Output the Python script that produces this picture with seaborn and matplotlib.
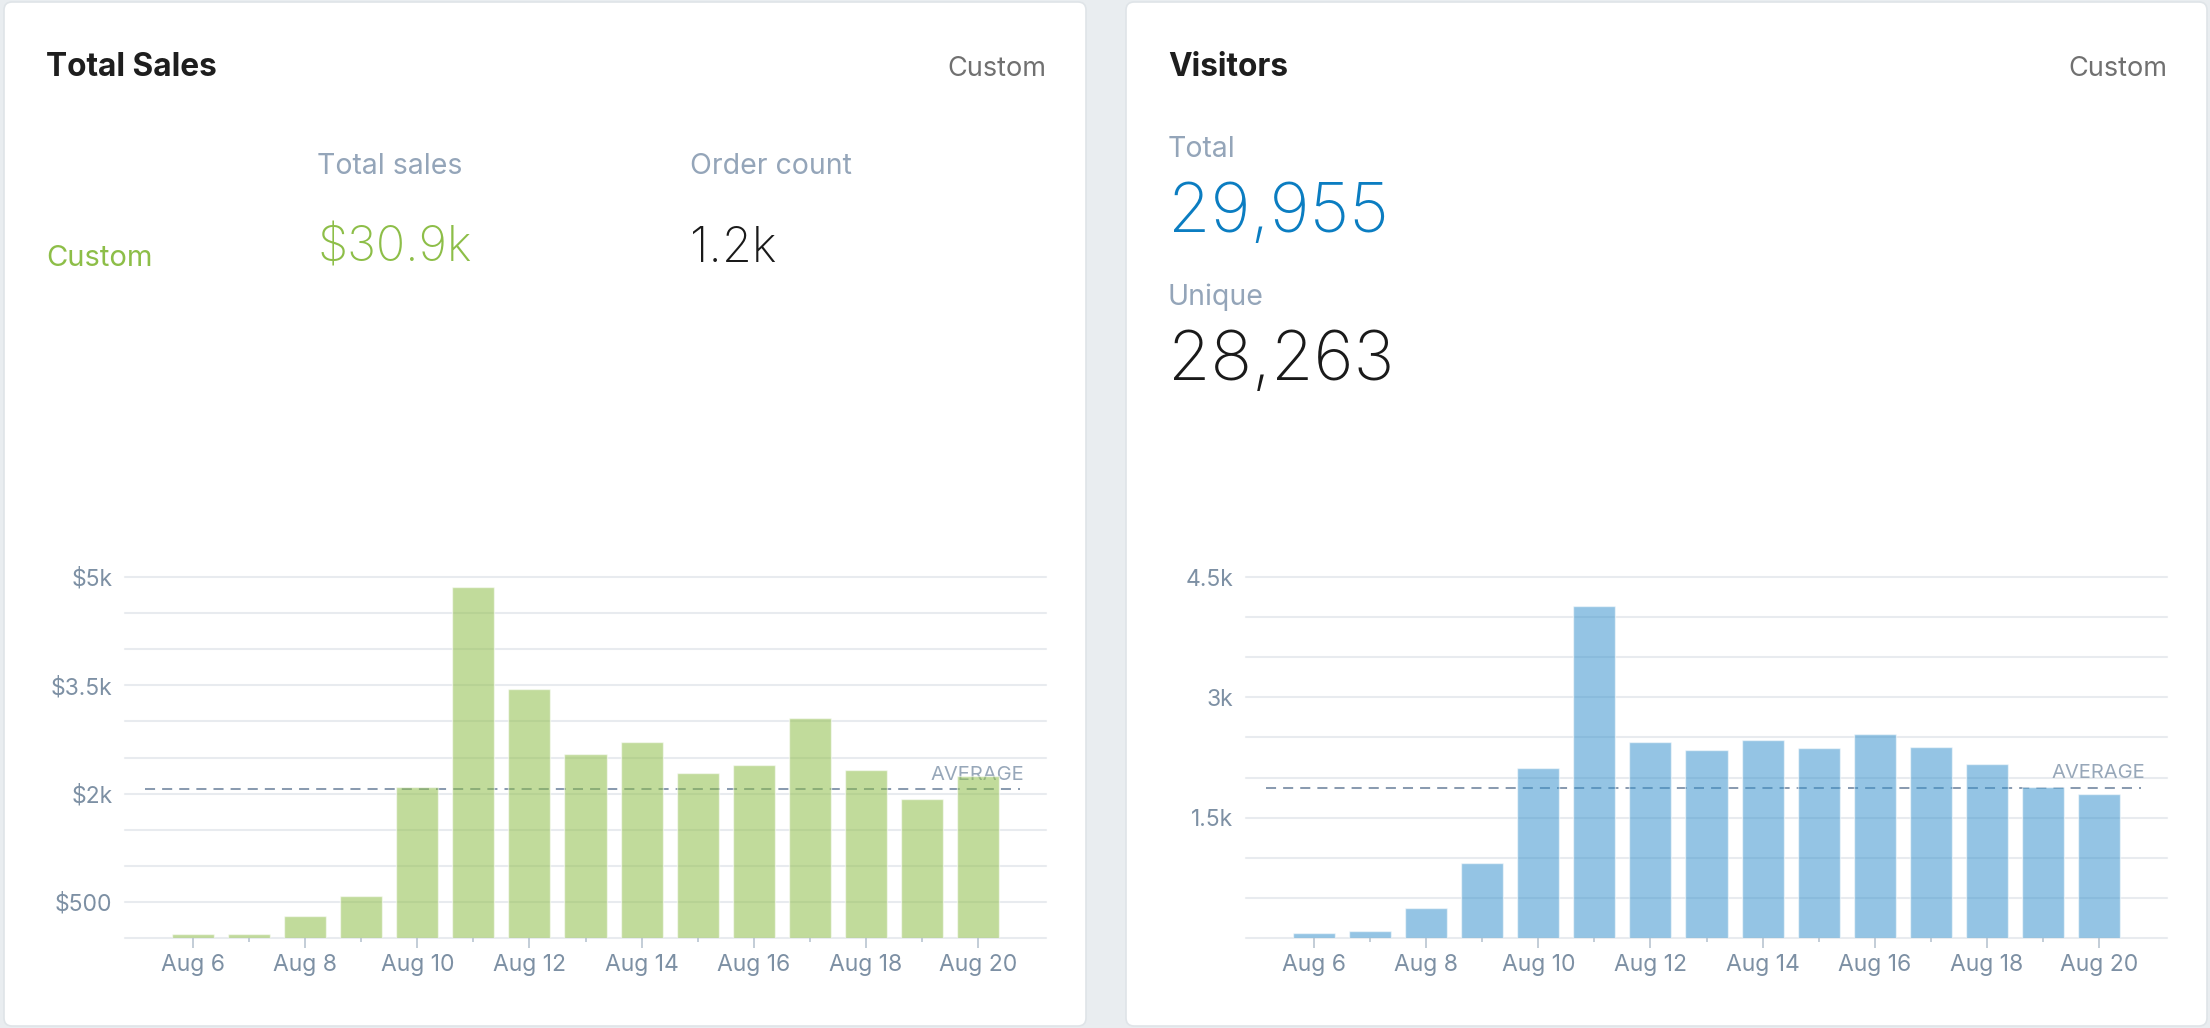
import numpy as np
import pandas as pd
import matplotlib
matplotlib.use("Agg")
import matplotlib.pyplot as plt
import seaborn as sns
from matplotlib.patches import FancyBboxPatch
from matplotlib.transforms import IdentityTransform

# data
days = ["Aug 6", "Aug 7", "Aug 8", "Aug 9", "Aug 10", "Aug 11", "Aug 12", "Aug 13",
        "Aug 14", "Aug 15", "Aug 16", "Aug 17", "Aug 18", "Aug 19", "Aug 20"]
sales = [50, 50, 310, 575, 2095, 4865, 3445, 2545, 2715, 2280, 2390, 3050, 2325, 1920, 2240]
visitors = [62, 92, 375, 937, 2125, 4142, 2442, 2346, 2462, 2371, 2537, 2387, 2175, 1883, 1800]

sales_yticks = [500, 2000, 3500, 5000]
sales_ylabels = ["$500", "$2k", "$3.5k", "$5k"]
visitors_yticks = [1500, 3000, 4500]
visitors_ylabels = ["1.5k", "3k", "4.5k"]

total_sales = "$30.9k"
order_count = "1.2k"
visitors_total = "29,955"
visitors_unique = "28,263"

W, H = 2210, 1028
sns.set_theme(style="white")
plt.rcParams["font.family"] = ["Inter", "DejaVu Sans"]

fig = plt.figure(figsize=(W / 100, H / 100), dpi=100)
fig.patch.set_facecolor("#e9edf0")

# white cards (pixel coords, origin bottom-left), kept behind the axes
for x0, x1 in [(4, 1086), (1126, 2207)]:
    card = FancyBboxPatch((x0, H - 1026), x1 - x0, 1026 - 2,
                          boxstyle="round,pad=0,rounding_size=8",
                          transform=IdentityTransform(), facecolor="white",
                          edgecolor="#dfe4e8", linewidth=1.2, zorder=-5)
    fig.patches.append(card)


def put(x, y, s, **kw):
    fig.text(x / W, 1 - y / H, s, va="baseline", **kw)


grid_col = "#e8ebef"
label_col = "#7d90a4"


def bar_panel(left, values, color, yticks, ylabels, ymax):
    ax = fig.add_axes([left / W, 1 - 938 / H, 921 / W, 361 / H])
    ax.set_facecolor("none")
    ax.set_zorder(2)
    # gridlines every 500, drawn first so bars sit on top
    for g in np.arange(0, ymax + 1, 500):
        ax.axhline(g, color=grid_col, linewidth=1.5, zorder=0, clip_on=False)
    df = pd.DataFrame({"day": days, "value": values})
    sns.barplot(data=df, x="day", y="value", ax=ax, color=color, alpha=0.55,
                saturation=1, width=0.75, errorbar=None, zorder=3)
    avg = np.mean(values)
    ax.hlines(avg, -0.86, 14.75, colors="#8a9bb0", linestyles=(0, (5, 3.5)),
              linewidth=1.45, zorder=2)
    ax.annotate("AVERAGE", (14.83, avg), xytext=(0, 6.5), textcoords="offset points",
                ha="right", va="baseline", fontsize=14.5, color="#97a7b9", zorder=1)
    ax.set_xlim(-1.22, 15.22)
    ax.set_ylim(0, ymax)
    n = len(days)
    ax.set_xticks(range(0, n, 2), days[::2])
    ax.set_xticks(range(1, n, 2), minor=True)
    ax.set_yticks(yticks, ylabels)
    ax.set_xlabel("")
    ax.set_ylabel("")
    ax.grid(False)
    sns.despine(ax=ax, left=True, bottom=True)
    ax.tick_params(axis="x", which="major", length=7.2, width=1.1, color="#b3c0cd",
                   labelsize=16.5, labelcolor=label_col, pad=4, bottom=True)
    ax.tick_params(axis="x", which="minor", length=3, width=1.1, color="#b3c0cd", bottom=True)
    ax.tick_params(axis="y", which="both", length=0, labelsize=16.5, labelcolor=label_col, pad=9)
    return ax


bar_panel(125, sales, "#8fbe4a", sales_yticks, sales_ylabels, 5000)
bar_panel(1246, visitors, "#3d95ce", visitors_yticks, visitors_ylabels, 4500)

# left card text
put(46, 76, "Total Sales", fontsize=22.8, fontweight="bold", color="#1e1e1e")
put(1046, 76, "Custom", fontsize=19.5, color="#707070", ha="right")
put(317, 174, "Total sales", fontsize=20.5, color="#94a5b9")
put(690, 174, "Order count", fontsize=20.5, color="#94a5b9")
put(46, 266, "Custom", fontsize=21, color="#8dbe48")
put(317, 262, total_sales, fontsize=35, fontweight="light", color="#8dbe48")
put(690, 262, order_count, fontsize=35, fontweight="light", color="#1a1a1a")

# right card text
put(1168, 76, "Visitors", fontsize=22.8, fontweight="bold", color="#1e1e1e")
put(2167, 76, "Custom", fontsize=19.5, color="#707070", ha="right")
put(1168, 157, "Total", fontsize=20.5, color="#94a5b9")
put(1168, 232, visitors_total, fontsize=49.5, fontweight="light", color="#0b7dc1")
put(1168, 305, "Unique", fontsize=20.5, color="#94a5b9")
put(1168, 380, visitors_unique, fontsize=49.5, fontweight="light", color="#1a1a1a")

fig.savefig("out.png", dpi=100, facecolor=fig.get_facecolor())
